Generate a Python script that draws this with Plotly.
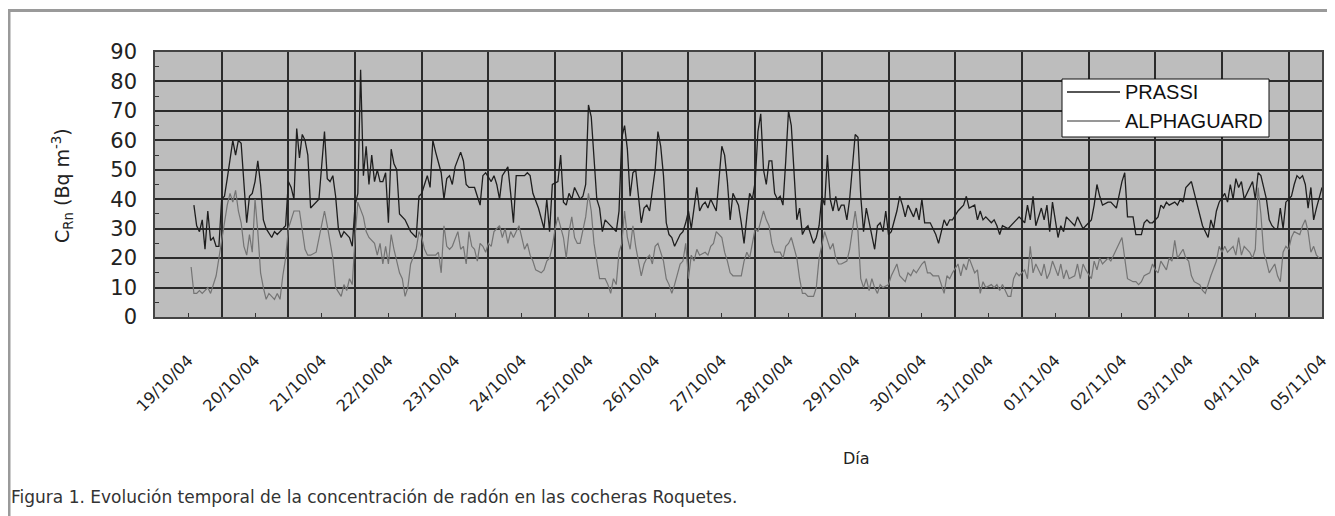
import plotly.graph_objects as go

# Fechas (etiquetas del eje X), una por día
fechas = ["19/10/04", "20/10/04", "21/10/04", "22/10/04", "23/10/04", "24/10/04",
          "25/10/04", "26/10/04", "27/10/04", "28/10/04", "29/10/04", "30/10/04",
          "31/10/04", "01/11/04", "02/11/04", "03/11/04", "04/11/04", "05/11/04"]

# Lecturas (hora desde el 19/10/04, concentración en Bq m-3)
prassi_lecturas = [
    (2, 38), (3, 31), (4, 29), (5, 33), (6, 23), (7, 36), (8, 26), (9, 27), (10, 24), (11, 24),
    (12, 40), (13, 41), (14, 47), (16, 60), (17, 55), (18, 60), (19, 59), (20, 45), (21, 32),
    (22, 41), (23, 42), (24, 46), (25, 53), (26, 45), (27, 33), (28, 30), (30, 27), (31, 29),
    (32, 28), (34, 30), (35, 31), (36, 46), (37, 44), (38, 40), (39, 64), (40, 54), (41, 62),
    (42, 60), (43, 55), (44, 37), (46, 39), (47, 40), (49, 63), (50, 47), (51, 46), (52, 48),
    (53, 41), (54, 30), (55, 27), (56, 29), (58, 27), (59, 24), (60, 38), (61, 42), (62, 84),
    (63, 48), (64, 58), (65, 45), (66, 55), (67, 46), (68, 50), (69, 46), (70, 46), (71, 49),
    (72, 32), (73, 57), (74, 52), (75, 50), (76, 35), (78, 33), (80, 29), (81, 28), (82, 27),
    (83, 41), (84, 42), (85, 45), (86, 48), (87, 44), (88, 60), (89, 56), (91, 49), (92, 40),
    (93, 47), (94, 48), (95, 45), (96, 51), (98, 56), (99, 53), (100, 45), (101, 44), (103, 44),
    (104, 41), (105, 38), (106, 48), (107, 49), (109, 46), (110, 48), (111, 45), (112, 40),
    (113, 48), (115, 51), (116, 42), (117, 32), (118, 48), (119, 48), (121, 48), (122, 49),
    (123, 48), (124, 42), (126, 37), (128, 30), (129, 40), (130, 29), (131, 45), (133, 46),
    (134, 55), (135, 39), (136, 38), (137, 42), (138, 40), (139, 44), (140, 42), (141, 40),
    (142, 41), (143, 45), (144, 72), (145, 68), (146, 54), (147, 40), (148, 37), (149, 29),
    (150, 33), (151, 32), (152, 31), (153, 30), (154, 29), (155, 36), (156, 61), (157, 65),
    (158, 57), (159, 41), (160, 49), (161, 50), (162, 42), (163, 32), (164, 37), (165, 38),
    (166, 36), (168, 50), (169, 63), (170, 58), (171, 48), (172, 32), (173, 28), (174, 27),
    (175, 24), (177, 28), (178, 29), (179, 32), (180, 36), (181, 30), (182, 37), (183, 44),
    (184, 36), (185, 38), (186, 39), (187, 37), (188, 40), (189, 38), (190, 36), (192, 58),
    (193, 55), (194, 46), (195, 33), (196, 42), (198, 38), (199, 32), (200, 25), (201, 34),
    (202, 42), (203, 40), (204, 46), (205, 63), (206, 69), (207, 50), (208, 45), (209, 53),
    (210, 53), (211, 42), (212, 40), (213, 41), (214, 38), (215, 53), (216, 70), (217, 65),
    (218, 47), (219, 33), (220, 37), (221, 28), (222, 30), (223, 31), (225, 25), (226, 27),
    (227, 31), (228, 41), (229, 38), (230, 55), (231, 40), (232, 36), (233, 41), (234, 36),
    (235, 38), (236, 38), (237, 33), (238, 40), (240, 62), (241, 61), (242, 41), (243, 29),
    (244, 37), (245, 32), (246, 27), (247, 23), (248, 31), (249, 32), (250, 29), (251, 36),
    (252, 28), (253, 29), (255, 36), (256, 41), (257, 38), (258, 34), (259, 38), (261, 34),
    (262, 37), (263, 33), (264, 40), (265, 32), (267, 32), (268, 30), (269, 28), (270, 25),
    (272, 33), (273, 31), (274, 33), (275, 33), (277, 36), (278, 37), (279, 38), (280, 41),
    (281, 37), (283, 38), (284, 33), (285, 36), (286, 33), (287, 34), (289, 32), (290, 33),
    (291, 31), (292, 28), (293, 31), (295, 30), (296, 31), (297, 32), (298, 33), (299, 34),
    (301, 32), (302, 38), (303, 33), (304, 41), (305, 31), (307, 37), (308, 33), (309, 38),
    (310, 29), (311, 39), (313, 27), (314, 31), (315, 29), (316, 34), (317, 33), (319, 31),
    (320, 34), (321, 32), (322, 30), (323, 31), (325, 33), (326, 38), (327, 45), (328, 41),
    (329, 38), (331, 39), (332, 39), (333, 38), (334, 37), (336, 46), (337, 49), (338, 34),
    (339, 34), (340, 34), (341, 28), (343, 28), (344, 32), (345, 33), (346, 32), (347, 32),
    (349, 34), (350, 38), (351, 37), (352, 39), (353, 38), (355, 39), (356, 38), (357, 40),
    (358, 39), (359, 44), (361, 46), (362, 42), (363, 38), (364, 34), (365, 31), (367, 27),
    (368, 33), (369, 30), (370, 36), (371, 39), (373, 42), (374, 39), (375, 45), (376, 40),
    (377, 47), (378, 44), (379, 46), (380, 40), (382, 44), (383, 46), (384, 40), (385, 49),
    (386, 48), (388, 40), (389, 33), (390, 31), (391, 30), (392, 30), (393, 37), (394, 30),
    (395, 39), (397, 41), (398, 45), (399, 48), (400, 47), (401, 48), (402, 45), (403, 37),
    (404, 44), (405, 33), (406, 37), (408, 44),
]

alphaguard_lecturas = [
    (1, 17), (2, 8), (3, 8), (4, 9), (5, 8), (7, 10), (8, 8), (9, 11), (10, 14), (11, 20),
    (13, 33), (14, 38), (15, 42), (16, 39), (17, 43), (18, 36), (19, 32), (20, 24), (21, 21),
    (22, 28), (23, 22), (24, 40), (25, 29), (26, 15), (27, 10), (28, 6), (29, 8), (31, 6),
    (32, 8), (33, 6), (34, 14), (35, 20), (36, 30), (37, 33), (38, 36), (40, 36), (41, 30),
    (42, 23), (43, 21), (44, 21), (46, 22), (47, 27), (48, 31), (49, 36), (50, 31), (51, 26),
    (52, 20), (53, 10), (55, 7), (56, 11), (57, 9), (58, 13), (59, 11), (60, 27), (61, 39),
    (63, 34), (64, 29), (65, 27), (67, 25), (68, 21), (69, 25), (70, 18), (71, 24), (72, 18),
    (73, 28), (74, 23), (75, 19), (76, 15), (77, 13), (78, 7), (79, 10), (80, 18), (82, 23),
    (83, 29), (84, 27), (85, 23), (86, 21), (88, 21), (89, 21), (90, 22), (91, 15), (92, 31),
    (93, 24), (94, 23), (95, 24), (97, 29), (98, 23), (99, 24), (100, 18), (101, 29), (102, 24),
    (103, 23), (104, 19), (105, 25), (106, 24), (107, 22), (108, 25), (109, 24), (110, 29),
    (112, 31), (113, 27), (114, 30), (115, 25), (116, 29), (117, 27), (118, 29), (119, 31),
    (121, 23), (122, 25), (123, 21), (124, 19), (125, 16), (127, 15), (128, 16), (129, 19),
    (130, 20), (131, 24), (132, 30), (133, 34), (135, 27), (136, 20), (137, 29), (138, 34),
    (139, 27), (140, 25), (141, 25), (142, 29), (143, 34), (144, 42), (145, 36), (146, 25),
    (147, 19), (148, 13), (150, 13), (151, 11), (152, 8), (153, 13), (154, 11), (155, 22),
    (156, 25), (157, 36), (158, 27), (159, 23), (160, 31), (161, 24), (162, 19), (163, 14),
    (164, 18), (165, 20), (166, 21), (167, 18), (168, 24), (169, 25), (171, 19), (172, 13),
    (173, 11), (174, 8), (175, 11), (177, 18), (178, 19), (179, 25), (180, 13), (181, 21),
    (182, 19), (183, 23), (184, 21), (186, 22), (187, 21), (188, 24), (189, 25), (190, 29),
    (192, 27), (193, 22), (194, 19), (195, 15), (196, 14), (198, 14), (199, 14), (200, 19),
    (201, 22), (202, 20), (204, 30), (205, 29), (206, 33), (207, 36), (208, 33), (209, 31),
    (210, 25), (211, 22), (213, 22), (214, 20), (215, 24), (216, 25), (217, 27), (219, 20),
    (220, 13), (221, 8), (222, 8), (223, 7), (225, 7), (226, 10), (227, 20), (228, 24),
    (229, 29), (231, 23), (232, 25), (233, 20), (234, 18), (235, 18), (237, 19), (238, 23),
    (239, 30), (240, 36), (241, 29), (242, 13), (243, 10), (244, 13), (245, 9), (246, 13),
    (247, 10), (248, 8), (249, 11), (250, 10), (252, 11), (253, 14), (254, 16), (255, 18),
    (256, 14), (258, 12), (259, 15), (260, 14), (261, 16), (262, 15), (264, 18), (265, 19),
    (266, 15), (267, 15), (268, 14), (270, 14), (272, 8), (273, 14), (274, 13), (275, 15),
    (277, 18), (278, 14), (279, 18), (280, 16), (281, 20), (283, 15), (284, 16), (285, 8),
    (286, 12), (287, 10), (289, 11), (290, 10), (291, 11), (292, 9), (293, 11), (295, 7),
    (296, 7), (297, 13), (298, 15), (299, 14), (301, 16), (302, 13), (303, 24), (304, 15),
    (305, 18), (307, 14), (308, 18), (309, 13), (310, 15), (311, 19), (313, 14), (314, 18),
    (315, 13), (316, 16), (317, 13), (319, 14), (320, 18), (321, 13), (322, 18), (323, 16),
    (325, 13), (326, 19), (327, 16), (328, 20), (329, 18), (331, 20), (332, 19), (333, 21),
    (334, 23), (336, 27), (337, 20), (338, 13), (340, 12), (341, 12), (342, 11), (343, 12),
    (344, 14), (346, 15), (347, 18), (348, 16), (349, 15), (350, 19), (352, 16), (353, 20),
    (354, 19), (355, 26), (356, 20), (358, 23), (359, 20), (360, 19), (361, 14), (362, 12),
    (364, 11), (365, 9), (366, 8), (367, 11), (368, 14), (370, 19), (371, 24), (372, 22),
    (373, 24), (374, 22), (376, 24), (377, 21), (378, 27), (379, 21), (380, 24), (382, 22),
    (383, 20), (384, 23), (385, 44), (386, 35), (387, 22), (388, 19), (389, 15), (391, 18),
    (392, 14), (393, 12), (394, 22), (395, 24), (396, 23), (397, 27), (398, 29), (400, 28),
    (401, 31), (402, 33), (403, 29), (404, 22), (405, 24), (406, 21), (407, 20),
]

y_ticks = [0, 10, 20, 30, 40, 50, 60, 70, 80, 90]
series_names = ["PRASSI", "ALPHAGUARD"]
series_colors = ["#1e1e1e", "#747474"]

horas_p = [h for h, _ in prassi_lecturas]
vals_p = [v for _, v in prassi_lecturas]
horas_a = [h for h, _ in alphaguard_lecturas]
vals_a = [v for _, v in alphaguard_lecturas]

# Page offset (browser default body margin) compensated in the layout
OFF = 8
W, H = 1335, 516
L, R, T, B = 147, 21, 44, 207
pw, ph = W - L - R, H - T - B


def FX(sx):
    return (sx - OFF - L) / pw


def FY(sy):
    return (H - B - (sy - OFF)) / ph


fig = go.Figure()
fig.add_trace(go.Scatter(x=horas_p, y=vals_p, mode="lines", name=series_names[0],
                         line=dict(color=series_colors[0], width=1.3)))
fig.add_trace(go.Scatter(x=horas_a, y=vals_a, mode="lines", name=series_names[1],
                         line=dict(color=series_colors[1], width=1.2)))

grid = "#2b2b2b"

shapes = [
    # outer frame of the figure
    dict(type="rect", xref="paper", yref="paper",
         x0=FX(9), x1=FX(1350), y0=FY(10.5), y1=FY(560),
         line=dict(color="#9a9a9a", width=3), fillcolor="rgba(0,0,0,0)", layer="below"),
    # legend box
    dict(type="rect", xref="paper", yref="paper",
         x0=FX(1062), x1=FX(1269), y0=FY(79), y1=FY(137),
         line=dict(color="#111", width=1), fillcolor="white", layer="above"),
]
annotations = []
for i, (nm, col) in enumerate(zip(series_names, series_colors)):
    yy = 92 + 29 * i
    shapes.append(dict(type="line", xref="paper", yref="paper",
                       x0=FX(1067), x1=FX(1120), y0=FY(yy), y1=FY(yy),
                       line=dict(color=col, width=1.3), layer="above"))
    annotations.append(dict(text=nm, xref="paper", yref="paper", x=FX(1123), y=FY(yy),
                            xanchor="left", yanchor="middle", showarrow=False,
                            font=dict(family="Liberation Sans", size=20, color="#111")))

annotations += [
    dict(text="C<sub>Rn</sub> (Bq m<sup>-3</sup>)", textangle=-90,
         xref="paper", yref="paper", x=FX(62), y=FY(186),
         xanchor="center", yanchor="middle", showarrow=False,
         font=dict(family="DejaVu Sans", size=19, color="#222")),
    dict(text="Día", xref="paper", yref="paper", x=FX(857), y=FY(458),
         xanchor="center", yanchor="middle", showarrow=False,
         font=dict(family="DejaVu Sans", size=16, color="#222")),
    dict(text="Figura 1. Evolución temporal de la concentración de radón en las cocheras Roquetes.",
         xref="paper", yref="paper", x=FX(9), y=FY(497),
         xanchor="left", yanchor="middle", showarrow=False,
         font=dict(family="DejaVu Sans", size=17, color="#333")),
]

fig.update_layout(
    width=W, height=H,
    margin=dict(l=L, r=R, t=T, b=B, autoexpand=False),
    paper_bgcolor="white", plot_bgcolor="#bdbdbd",
    font=dict(family="DejaVu Sans", color="#222"),
    showlegend=False,
    xaxis=dict(range=[-12, 408], tickmode="array",
               tickvals=[24 * i for i in range(len(fechas))], ticktext=fechas,
               tickangle=-45, tickfont=dict(size=16, color="#222"),
               ticks="inside", ticklen=4, tickcolor="#333",
               showgrid=False, zeroline=False,
               showline=True, linecolor="#444", linewidth=1.5, mirror=True,
               ticklabelstandoff=26,
               minor=dict(tickmode="linear", tick0=12, dtick=24, showgrid=True,
                          gridcolor=grid, gridwidth=1.6, ticks="")),
    yaxis=dict(range=[0, 90], tickmode="array", tickvals=y_ticks,
               tickfont=dict(size=21, color="#222"),
               ticks="", showgrid=True, gridcolor=grid, gridwidth=1.6,
               zeroline=False, showline=True, linecolor="#444", linewidth=1.5,
               mirror=True, ticklabelstandoff=12,
               minor=dict(tickmode="linear", tick0=5, dtick=10, ticks="inside",
                          ticklen=4, tickcolor="#333", showgrid=False)),
    shapes=shapes,
    annotations=annotations,
)

fig.write_html("out.html")
